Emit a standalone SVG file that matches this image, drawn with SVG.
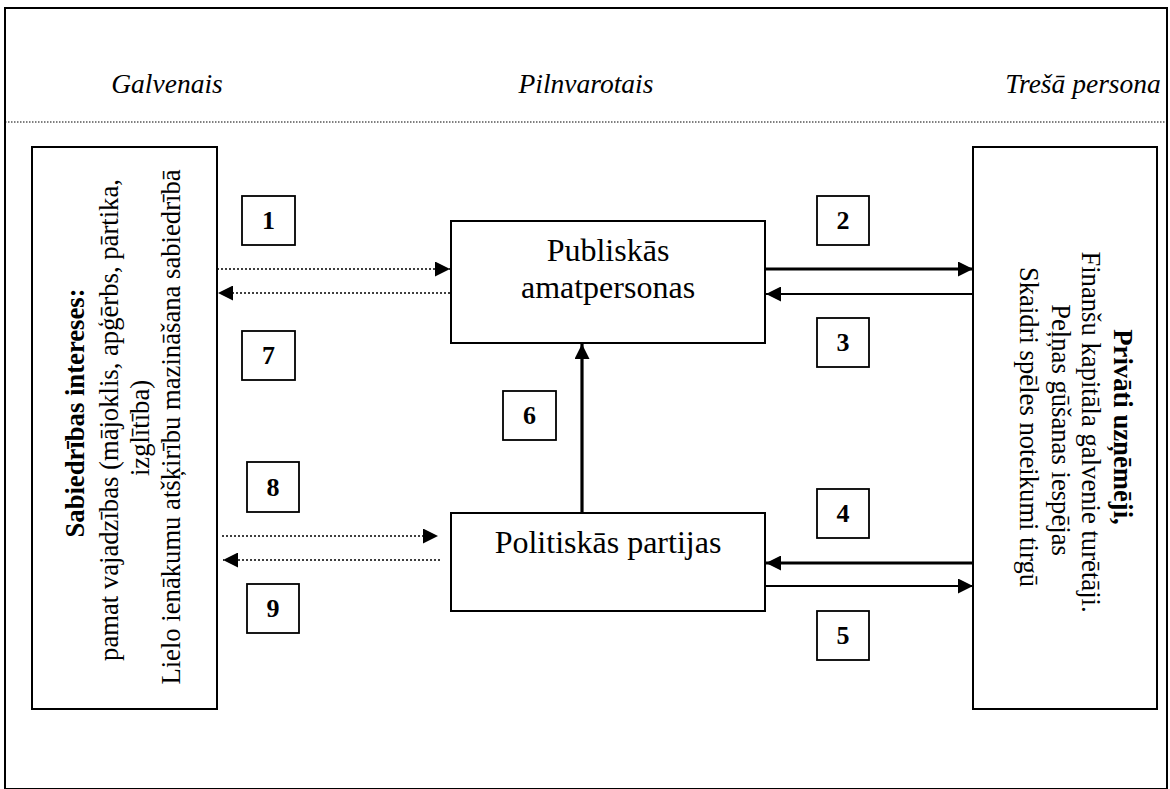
<svg xmlns="http://www.w3.org/2000/svg" width="1170" height="789" viewBox="0 0 1170 789">
<defs>
<style>
.frame{fill:none;stroke:#000;stroke-width:2}
.box{fill:#fff;stroke:#000;stroke-width:2}
.lbl{fill:#fff;stroke:#000;stroke-width:1.8}
.num{font-family:"Liberation Serif","Times New Roman",serif;font-weight:bold;font-size:26px;text-anchor:middle}
.hdr{font-family:"Liberation Serif","Times New Roman",serif;font-style:italic;font-size:27.5px;text-anchor:middle}
.t{font-family:"Liberation Serif","Times New Roman",serif;font-size:26.67px;text-anchor:middle}
.c{font-family:"Liberation Serif","Times New Roman",serif;font-size:32px;text-anchor:middle}
.b{font-weight:bold}
.dot{fill:none;stroke:#000;stroke-width:1.6;stroke-dasharray:2 2}
.thk{fill:none;stroke:#000;stroke-width:3.2}
.thn{fill:none;stroke:#000;stroke-width:1.8}
</style>
<marker id="ah" viewBox="0 0 15 15" refX="15" refY="7.5" markerWidth="15" markerHeight="15" markerUnits="userSpaceOnUse" orient="auto">
<path d="M0,0 L15,7.5 L0,15 Z" fill="#000"/>
</marker>
</defs>
<rect width="1170" height="789" fill="#fff"/>
<rect class="frame" x="5" y="8" width="1162" height="781"/>
<line x1="5" y1="122" x2="1167" y2="122" stroke="#000" stroke-width="1" stroke-dasharray="1.5 1.5"/>
<g id="headers">
<text class="hdr" x="167" y="93">Galvenais</text>
<text class="hdr" x="586" y="93">Pilnvarotais</text>
<text class="hdr" x="1083" y="93">Trešā persona</text>
</g>
<g id="node-sabiedriba">
<rect class="box" x="32" y="147" width="185" height="562"/>
<text class="t b" font-size="29" transform="translate(84,413) rotate(-90)">Sabiedrības intereses:</text>
<text class="t" transform="translate(118,420) rotate(-90)">pamat vajadzības (mājoklis, apģērbs, pārtika,</text>
<text class="t" transform="translate(149,428) rotate(-90)">izglītība)</text>
<text class="t" transform="translate(180,427) rotate(-90)">Lielo ienākumu atšķirību mazināšana sabiedrībā</text>
</g>
<g id="node-privati">
<rect class="box" x="973" y="147" width="184" height="562"/>
<text class="t b" transform="translate(1114,427) rotate(90)">Privāti uzņēmēji,</text>
<text class="t" transform="translate(1082,432) rotate(90)">Finanšu kapitāla galvenie turētāji.</text>
<text class="t" transform="translate(1052,430) rotate(90)">Peļņas gūšanas iespējas</text>
<text class="t" transform="translate(1020,427) rotate(90)">Skaidri spēles noteikumi tirgū</text>
</g>
<g id="node-publiskas">
<rect class="box" x="451" y="221" width="314" height="122"/>
<text class="c" x="608" y="261">Publiskās</text>
<text class="c" x="608" y="298">amatpersonas</text>
</g>
<g id="node-politiskas">
<rect class="box" x="451" y="513" width="314" height="98"/>
<text class="c" x="608" y="553">Politiskās partijas</text>
</g>
<g id="connectors">
<line class="dot" x1="217" y1="269" x2="450" y2="269" marker-end="url(#ah)"/>
<line class="dot" x1="450" y1="293" x2="218" y2="293" marker-end="url(#ah)"/>
<line class="dot" x1="222" y1="536" x2="438" y2="536" marker-end="url(#ah)"/>
<line class="dot" x1="440" y1="560" x2="223" y2="560" marker-end="url(#ah)"/>
<line class="thk" x1="766" y1="269" x2="973" y2="269" marker-end="url(#ah)"/>
<line class="thn" x1="973" y1="294" x2="766" y2="294" marker-end="url(#ah)"/>
<line class="thk" x1="973" y1="563" x2="766" y2="563" marker-end="url(#ah)"/>
<line class="thn" x1="766" y1="586" x2="973" y2="586" marker-end="url(#ah)"/>
<line class="thk" x1="582" y1="513" x2="582" y2="344" marker-end="url(#ah)"/>
</g>
<g id="labels">
<g id="lbl-1"><rect class="lbl" x="242" y="196" width="53" height="49"/><text class="num" x="268.5" y="229">1</text></g>
<g id="lbl-2"><rect class="lbl" x="817" y="196" width="52" height="49"/><text class="num" x="843" y="229">2</text></g>
<g id="lbl-3"><rect class="lbl" x="817" y="318" width="52" height="49"/><text class="num" x="843" y="351">3</text></g>
<g id="lbl-7"><rect class="lbl" x="242" y="331" width="53" height="49"/><text class="num" x="268.5" y="364">7</text></g>
<g id="lbl-6"><rect class="lbl" x="503" y="391" width="53" height="49"/><text class="num" x="529.5" y="424">6</text></g>
<g id="lbl-8"><rect class="lbl" x="247" y="462" width="52" height="50"/><text class="num" x="273" y="496">8</text></g>
<g id="lbl-4"><rect class="lbl" x="817" y="489" width="52" height="49"/><text class="num" x="843" y="522">4</text></g>
<g id="lbl-9"><rect class="lbl" x="247" y="584" width="52" height="49"/><text class="num" x="273" y="617">9</text></g>
<g id="lbl-5"><rect class="lbl" x="817" y="611" width="52" height="49"/><text class="num" x="843" y="644">5</text></g>
</g>
</svg>
